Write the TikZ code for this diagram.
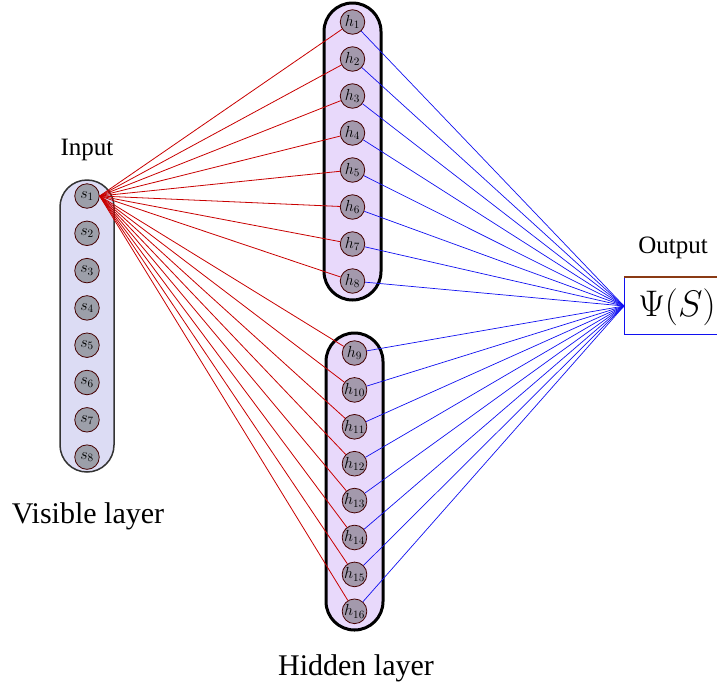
\documentclass[tikz,border=0pt]{standalone}
\usepackage{fix-cm}
\usepackage{fontspec}
\setmainfont{Liberation Serif}
\begin{document}
\begin{tikzpicture}[x=1pt,y=-1pt,
  unit/.style={circle,draw=black!55!red!60!black,line width=0.8pt,inner sep=0pt,
               minimum size=24.5pt,font=\fontsize{16}{18}\selectfont},
  vunit/.style={unit,fill=visnode},
  hunit/.style={unit,fill=hidnode},
  inedge/.style={draw=inred,line width=0.8pt},
  outedge/.style={draw=outblue,line width=0.7pt},
  caption/.style={font=\fontsize{30}{34}\selectfont},
  tag/.style={font=\fontsize{25}{28}\selectfont}]
\definecolor{visnode}{HTML}{9C9FA9}
\definecolor{hidnode}{HTML}{A399AC}
\definecolor{visfill}{HTML}{DCDCF4}
\definecolor{hidfill}{HTML}{E8D9FB}
\definecolor{inred}{HTML}{C80000}
\definecolor{outblue}{HTML}{1010F0}
\definecolor{boxtop}{HTML}{8A3A14}
\useasboundingbox (0,0) rectangle (717,691);

% layer containers
\draw[fill=visfill,draw=black!80,line width=1.5pt,rounded corners=27pt] (60,180) rectangle (114,472);
\draw[fill=hidfill,draw=black,line width=3pt,rounded corners=28.5pt] (324,3) rectangle (381,300);
\draw[fill=hidfill,draw=black,line width=3pt,rounded corners=28.5pt] (326,333) rectangle (383,630);

% visible units
\foreach \i in {1,...,8}
  \node[vunit] (s\i) at (87,{196+37.3*(\i-1)}) {$s_{\i}$};

% hidden units
\foreach \i in {1,...,8}
  \node[hunit] (h\i) at (352.5,{22+37*(\i-1)}) {$h_{\i}$};
\foreach \i in {9,...,16}
  \node[hunit] (h\i) at (354.5,{353+36.9*(\i-9)}) {$h_{\i}$};

% output
\node[draw=outblue,line width=1pt,minimum width=110pt,minimum height=57pt,anchor=west,
      inner sep=0pt] (out) at (624,306) {};
\draw[boxtop,line width=1.2pt] (out.north west) -- (out.north east);
\node[font=\fontsize{37}{40}\selectfont] (psi) at (677,307) {$\Psi(S)$};

% connections
\foreach \i in {1,...,16} {
  \draw[inedge] (s1.east) -- (h\i);
  \draw[outedge] (h\i) -- (out.west);
}

% labels
\node[tag] (inlab) at (87,150) {Input};
\node[tag] (outlab) at (673,248) {Output};
\node[caption] (vislab) at (88,516) {Visible layer};
\node[caption] (hidlab) at (356,668) {Hidden layer};
\end{tikzpicture}
\end{document}
